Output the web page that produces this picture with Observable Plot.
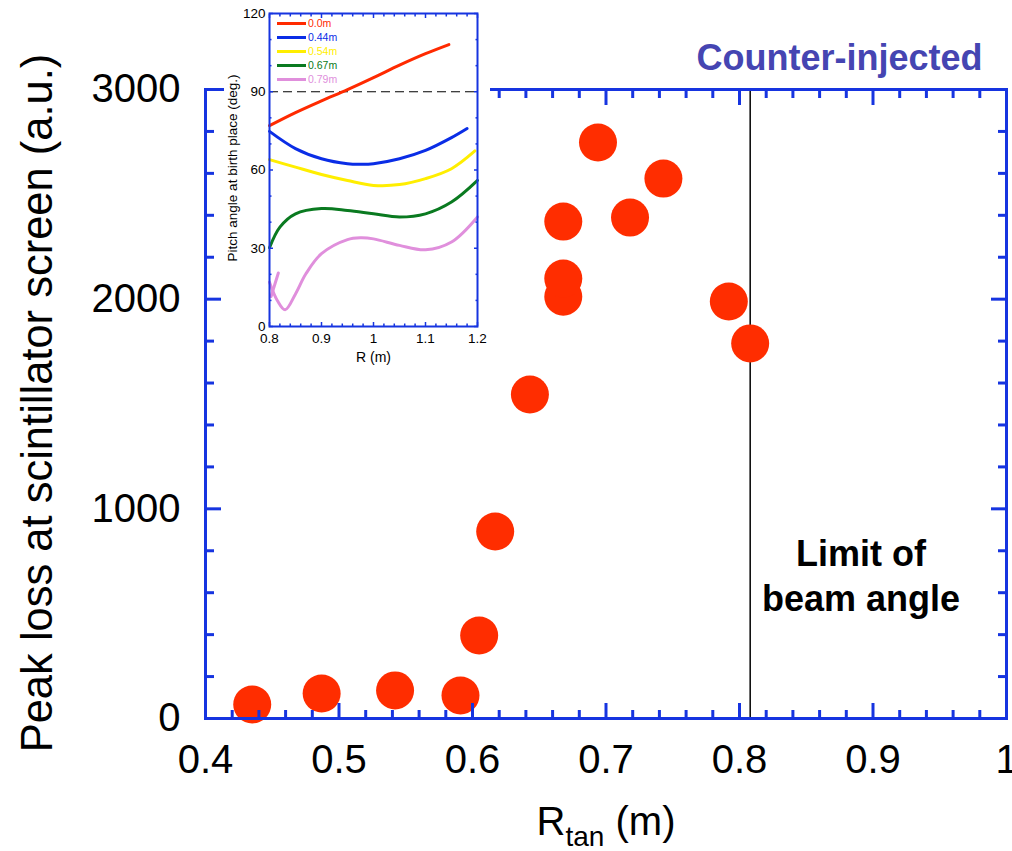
<!DOCTYPE html>
<html>
<head>
<meta charset="utf-8">
<script src="https://cdn.jsdelivr.net/npm/d3@7"></script>
<script src="https://cdn.jsdelivr.net/npm/@observablehq/plot@0.6"></script>
<style>
  body { margin: 0; background: #fff; font-family: "Liberation Sans", Arial, Helvetica, sans-serif; }
  #wrap { position: relative; width: 1012px; height: 851px; overflow: hidden; }
  #wrap > svg { position: absolute; left: 0; top: 0; }
  #inset { position: absolute; left: 224px; top: 0px; }
  #legend { position: absolute; left: 277px; top: 16px; font-size: 10.5px; line-height: 14px; }
  #legend .row { display: flex; align-items: center; height: 14px; }
  #legend .sw { display: inline-block; width: 29px; height: 3px; margin-right: 2px; }
</style>
</head>
<body>
<div id="wrap"><div id="inset"></div><div id="legend"></div></div>
<script>
// ---------- main chart data ----------
const rtan      = [0.435, 0.487, 0.542, 0.591, 0.605, 0.617, 0.643, 0.668, 0.668, 0.668, 0.694, 0.718, 0.743, 0.792, 0.808];
const peakLoss  = [67,    119,   134,   110,   396,   892,   1545,  2012,  2098,  2370,  2747,  2389,  2575,  1989,  1789];
const beamLimit = 0.808;
const xMajorTicks = [0.4, 0.5, 0.6, 0.7, 0.8, 0.9, 1.0];
const yMajorTicks = [0, 1000, 2000, 3000];
const mainTitle = "Counter-injected";
const limitLabel = "Limit of\nbeam angle";
const yLabel = "Peak loss at scintillator screen (a.u.)";

// ---------- inset data (pitch angle vs R) ----------
const insetNames  = ["0.0m", "0.44m", "0.54m", "0.67m", "0.79m"];
const insetColors = ["#ff2a00", "#0a2de6", "#ffee00", "#0a7a20", "#e08fdc"];
const r_00 = [0.80, 0.85, 0.90, 0.95, 1.00, 1.05, 1.10, 1.145];
const a_00 = [77,   82.0, 86.5, 90.8, 95.4, 100.2, 104.6, 108.1];
const r_44 = [0.80, 0.85, 0.90, 0.95, 0.975, 1.00, 1.05, 1.10, 1.15, 1.18];
const a_44 = [74.8, 68.2, 64.3, 62.4, 62.2, 62.4, 64.3, 67.5, 72.4, 75.9];
const r_54 = [0.80, 0.85, 0.90, 0.95, 1.00, 1.05, 1.10, 1.15, 1.195];
const a_54 = [64,   61.1, 58.3, 56.0, 54.1, 54.4, 56.7, 60.5, 67.3];
const r_67 = [0.80, 0.82, 0.85, 0.90, 0.95, 1.00, 1.05, 1.10, 1.15, 1.20];
const a_67 = [30.2, 38.1, 43.2, 45.2, 44.5, 43.2, 42.0, 43.2, 47.7, 56.0];
const r_79 = [0.80, 0.815, 0.83, 0.85, 0.87, 0.90, 0.95, 0.975, 1.00, 1.05, 1.10, 1.15, 1.20];
const a_79 = [17,   10,    6.4,  12.5, 20.2, 27.9, 33.3, 34.0,  33.6, 31.1, 29.4, 32.4, 42.0];
const r_79b = [0.803, 0.817];
const a_79b = [11.5,  20.5];
const insetXTicks = [0.8, 0.9, 1.0, 1.1, 1.2];
const insetYTicks = [0, 30, 60, 90, 120];
const insetRef = 90;

// ---------- build tables ----------
const points = rtan.map((x, i) => ({x, y: peakLoss[i]}));
const curveSets = [[r_00, a_00, 0, "a"], [r_44, a_44, 1, "a"], [r_54, a_54, 2, "a"], [r_67, a_67, 3, "a"], [r_79, a_79, 4, "a"], [r_79b, a_79b, 4, "b"]];
const curves = curveSets.flatMap(([rs, as, k, seg]) => rs.map((r, i) => ({r, a: as[i], name: insetNames[k], seg: insetNames[k] + seg})));

const blue = "#1634e0";
const font = "'Liberation Sans', Arial, Helvetica, sans-serif";
const xMinor = d3.range(0.4, 1.0001, 0.02).map(v => +v.toFixed(2)).filter(v => !xMajorTicks.some(m => Math.abs(m - v) < 1e-6));
const yMinor = d3.range(0, 3001, 200).filter(v => !yMajorTicks.includes(v));
const noText = () => "";

const main = Plot.plot({
  width: 1012, height: 851,
  marginLeft: 205, marginRight: 6, marginTop: 89, marginBottom: 133,
  style: {fontFamily: font, background: "white", overflow: "visible"},
  x: {domain: [0.4, 1.0]},
  y: {domain: [0, 3000]},
  marks: [
    Plot.ruleX([beamLimit], {stroke: "black", strokeWidth: 1.5}),
    Plot.dot(points, {x: "x", y: "y", r: 19, fill: "#ff2d00", stroke: null}),
    Plot.axisX({anchor: "bottom", ticks: xMajorTicks, tickSize: -15, tickPadding: 41, fontSize: 40, stroke: blue, strokeWidth: 3, tickFormat: d => d === 1 ? "1" : d.toFixed(1), label: null}),
    Plot.axisX({anchor: "bottom", ticks: xMinor, tickSize: -8, stroke: blue, strokeWidth: 3, tickFormat: noText, label: null}),
    Plot.axisX({anchor: "top", ticks: xMajorTicks, tickSize: -15, stroke: blue, strokeWidth: 3, tickFormat: noText, label: null}),
    Plot.axisX({anchor: "top", ticks: xMinor, tickSize: -8, stroke: blue, strokeWidth: 3, tickFormat: noText, label: null}),
    Plot.axisY({anchor: "left", ticks: yMajorTicks, tickSize: -16, tickPadding: 41, fontSize: 40, stroke: blue, strokeWidth: 3, tickFormat: d => String(d), label: null}),
    Plot.axisY({anchor: "left", ticks: yMinor, tickSize: -9, stroke: blue, strokeWidth: 3, tickFormat: noText, label: null}),
    Plot.axisY({anchor: "right", ticks: yMajorTicks, tickSize: -16, stroke: blue, strokeWidth: 3, tickFormat: noText, label: null}),
    Plot.axisY({anchor: "right", ticks: yMinor, tickSize: -9, stroke: blue, strokeWidth: 3, tickFormat: noText, label: null}),
    Plot.frame({stroke: blue, strokeWidth: 3}),
    Plot.text([limitLabel], {x: 0.891, y: 687, fontSize: 36, fontWeight: "bold", lineHeight: 1.25, fill: "black"}),
    Plot.text([mainTitle], {frameAnchor: "top-right", dx: -24, dy: -31, lineAnchor: "middle", textAnchor: "end", fontSize: 36, fontWeight: "bold", fill: "#4545b2"}),
    Plot.text([yLabel], {frameAnchor: "left", dx: -167, dy: -1, rotate: -90, textAnchor: "middle", lineAnchor: "middle", fontSize: 43.5, fill: "black"}),
    Plot.text(["R (m)"], {frameAnchor: "bottom", dy: 104, textAnchor: "middle", lineAnchor: "middle", fontSize: 40, fill: "black", className: "xlab"})
  ]
});
document.getElementById("wrap").prepend(main);

// subscript for R_tan
d3.select(main).selectAll(".xlab text").each(function () {
  const t = d3.select(this);
  t.text("");
  t.append("tspan").text("R");
  t.append("tspan").attr("dy", "11px").attr("font-size", "28px").text("tan");
  t.append("tspan").attr("dy", "-11px").text(" (m)");
});

// ---------- inset ----------
const ixMinor = d3.range(0.8, 1.2001, 0.02).map(v => +v.toFixed(2)).filter(v => !insetXTicks.some(m => Math.abs(m - v) < 1e-6));
const iyMinor = d3.range(0, 121, 10).filter(v => !insetYTicks.includes(v));

const inset = Plot.plot({
  width: 266, height: 370,
  marginLeft: 45, marginRight: 13, marginTop: 13, marginBottom: 44,
  style: {fontFamily: font, background: "white", overflow: "visible"},
  x: {domain: [0.8, 1.2]},
  y: {domain: [0, 120]},
  color: {domain: insetNames, range: insetColors},
  marks: [
    Plot.ruleY([insetRef], {stroke: "black", strokeWidth: 1, strokeDasharray: "9,5"}),
    Plot.line(curves, {x: "r", y: "a", z: "seg", stroke: "name", strokeWidth: 3, curve: "catmull-rom"}),
    Plot.axisX({anchor: "bottom", ticks: insetXTicks, tickSize: -4, tickPadding: 11, fontSize: 13.5, stroke: blue, strokeWidth: 1.5, tickFormat: d => d === 1 ? "1" : d.toFixed(1), label: null}),
    Plot.axisX({anchor: "bottom", ticks: ixMinor, tickSize: -2.5, stroke: blue, strokeWidth: 1.5, tickFormat: noText, label: null}),
    Plot.axisX({anchor: "top", ticks: insetXTicks, tickSize: -4, stroke: blue, strokeWidth: 1.5, tickFormat: noText, label: null}),
    Plot.axisX({anchor: "top", ticks: ixMinor, tickSize: -2.5, stroke: blue, strokeWidth: 1.5, tickFormat: noText, label: null}),
    Plot.axisY({anchor: "left", ticks: insetYTicks, tickSize: -4, tickPadding: 8, fontSize: 13.5, stroke: blue, strokeWidth: 1.5, tickFormat: d => String(d), label: null}),
    Plot.axisY({anchor: "left", ticks: iyMinor, tickSize: -2.5, stroke: blue, strokeWidth: 1.5, tickFormat: noText, label: null}),
    Plot.axisY({anchor: "right", ticks: insetYTicks, tickSize: -4, stroke: blue, strokeWidth: 1.5, tickFormat: noText, label: null}),
    Plot.axisY({anchor: "right", ticks: iyMinor, tickSize: -2.5, stroke: blue, strokeWidth: 1.5, tickFormat: noText, label: null}),
    Plot.frame({stroke: blue, strokeWidth: 2}),
    Plot.text(["Pitch angle at birth place (deg.)"], {frameAnchor: "left", dx: -37, dy: -2, rotate: -90, textAnchor: "middle", lineAnchor: "middle", fontSize: 13.5, fill: "black"}),
    Plot.text(["R (m)"], {frameAnchor: "bottom", dy: 31, textAnchor: "middle", lineAnchor: "middle", fontSize: 14, fill: "black"})
  ]
});
document.getElementById("inset").appendChild(inset);

// inset legend
const legend = d3.select("#legend");
insetNames.forEach((n, i) => {
  const row = legend.append("div").attr("class", "row");
  row.append("span").attr("class", "sw").style("background", insetColors[i]);
  row.append("span").style("color", insetColors[i]).text(n);
});
</script>
</body>
</html>
